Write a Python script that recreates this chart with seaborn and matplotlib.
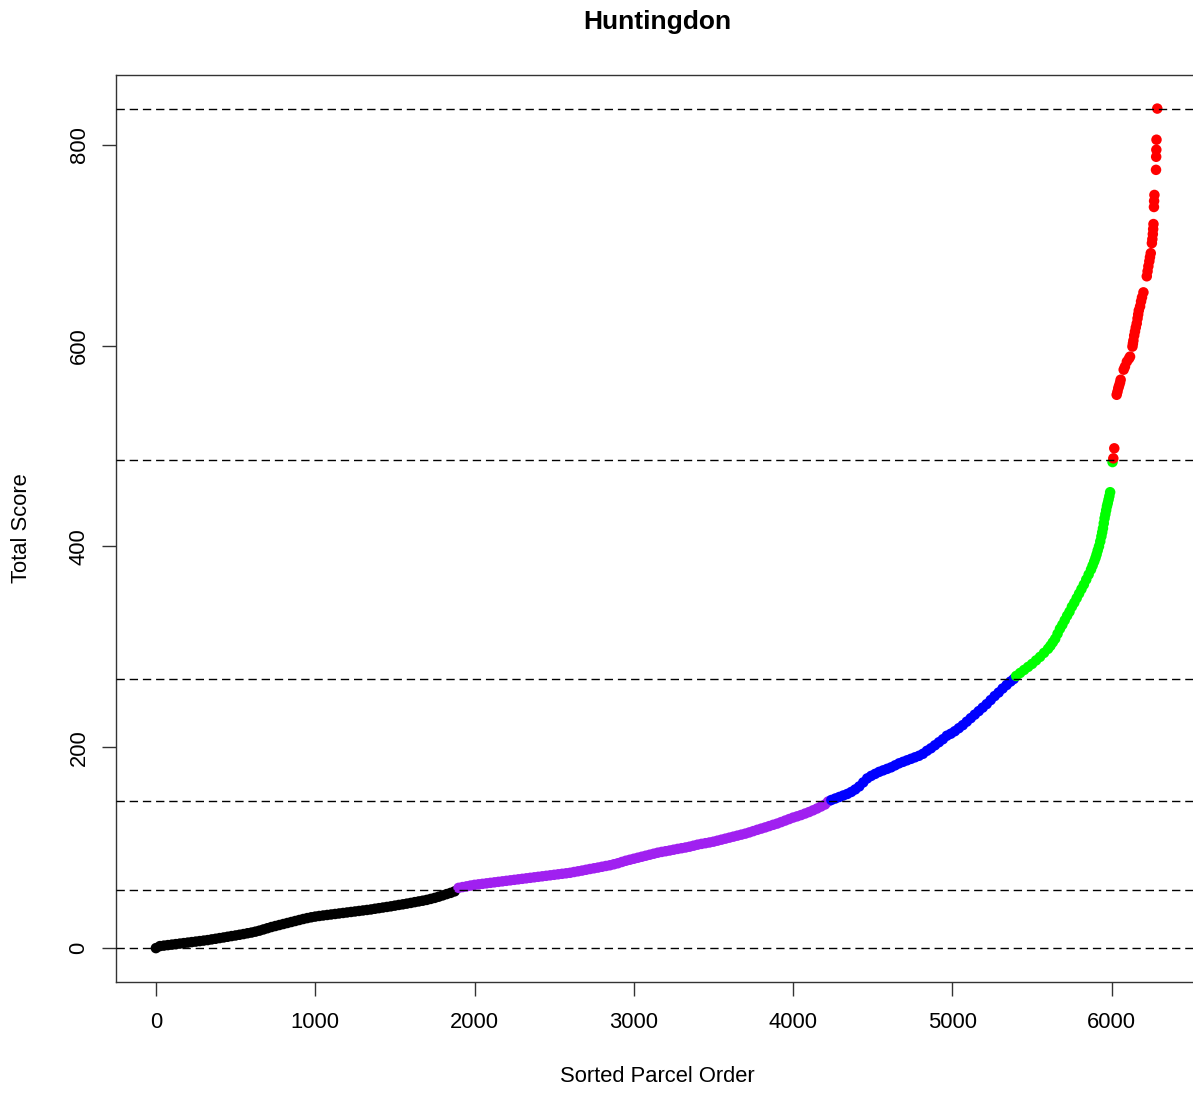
import pandas as pd
import numpy as np
import seaborn as sns
import matplotlib
matplotlib.use("Agg")
import matplotlib.pyplot as plt

# scores, one array pair per colour class
black_rank = [0, 25, 50, 75, 100, 125, 150, 175, 200, 225, 250, 275, 300, 325, 350,
              375, 400, 425, 450, 475, 500, 525, 550, 575, 600, 625, 650, 675, 700,
              725, 750, 775, 800, 825, 850, 875, 900, 925, 950, 975, 1000, 1025, 1050,
              1075, 1100, 1125, 1150, 1175, 1200, 1225, 1250, 1275, 1300, 1325, 1350,
              1375, 1400, 1425, 1450, 1475, 1500, 1525, 1550, 1575, 1600, 1625, 1650,
              1675, 1700, 1725, 1750, 1775, 1800, 1825, 1850, 1875]
black_score = [0, 2, 2.5, 3, 3.5, 4, 4.5, 5, 5.5, 6, 6.5, 7, 7.5, 8, 8.7,
               9.3, 10, 10.6, 11.3, 12, 12.6, 13.3, 14, 14.8, 15.5, 16.4, 17.4, 18.6, 19.8,
               21, 22, 23, 24, 25, 26, 27, 28, 29, 29.9, 30.7, 31.4, 32, 32.5,
               33, 33.5, 34, 34.5, 35, 35.5, 36, 36.5, 37, 37.5, 38, 38.5,
               39.2, 39.8, 40.4, 41, 41.6, 42.3, 43, 43.6, 44.3, 45, 45.8, 46.5,
               47.2, 48, 49, 50, 51.2, 52.5, 53.8, 55, 56.5]

purple_rank = [1900, 1925, 1950, 1975, 2000, 2025, 2050, 2075, 2100, 2125, 2150, 2175,
               2200, 2225, 2250, 2275, 2300, 2325, 2350, 2375, 2400, 2425, 2450, 2475,
               2500, 2525, 2550, 2575, 2600, 2625, 2650, 2675, 2700, 2725, 2750, 2775,
               2800, 2825, 2850, 2875, 2900, 2925, 2950, 2975, 3000, 3025, 3050, 3075,
               3100, 3125, 3150, 3175, 3200, 3225, 3250, 3275, 3300, 3325, 3350, 3375,
               3400, 3425, 3450, 3475, 3500, 3525, 3550, 3575, 3600, 3625, 3650, 3675,
               3700, 3725, 3750, 3775, 3800, 3825, 3850, 3875, 3900, 3925, 3950, 3975,
               4000, 4025, 4050, 4075, 4100, 4125, 4150, 4175, 4200, 4220]
purple_score = [60, 60.8, 61.5, 62.3, 63, 63.5, 64, 64.5, 65, 65.5, 66, 66.5,
                67, 67.5, 68, 68.5, 69, 69.5, 70, 70.5, 71, 71.5, 72, 72.5,
                73, 73.5, 74, 74.5, 75, 75.8, 76.5, 77.2, 78, 78.8, 79.5, 80.2,
                81, 81.8, 82.5, 83.5, 84.5, 85.8, 87, 88, 89, 90, 91, 92,
                93, 94, 95, 95.8, 96.5, 97.2, 98, 98.8, 99.5, 100.2, 101, 102,
                103, 103.8, 104.5, 105.2, 106, 107, 108, 109, 110, 111, 112, 113,
                114, 115.2, 116.5, 117.8, 119, 120.2, 121.5, 122.8, 124, 125.5, 127, 128.5,
                130, 131.2, 132.5, 134, 135.5, 137.2, 139, 141, 143, 146]

blue_rank = [4240, 4265, 4290, 4315, 4340, 4365, 4390, 4415, 4440, 4465, 4490, 4515,
             4540, 4565, 4590, 4615, 4640, 4665, 4690, 4715, 4740, 4765, 4790, 4815,
             4840, 4865, 4890, 4915, 4940, 4965, 4990, 5015, 5040, 5065, 5090, 5115,
             5140, 5165, 5190, 5215, 5240, 5265, 5290, 5315, 5340, 5365, 5385]
blue_score = [147.5, 149, 150.5, 152, 153.5, 155.5, 158, 161, 165, 169, 171.5, 173.5,
              175.5, 177, 178.5, 180, 182, 184, 185.5, 187, 188.5, 190, 191.5, 193.5,
              196.5, 199, 202, 205, 208, 211.5, 213.5, 216, 219, 222, 225.5, 229,
              232.5, 236, 239.5, 243, 247, 251, 254.5, 258.5, 262, 265.5, 268]

green_rank = [5400, 5425, 5450, 5475, 5500, 5525, 5550, 5575, 5600, 5615, 5630, 5645,
              5660, 5675, 5690, 5705, 5720, 5735, 5750, 5765, 5780, 5795, 5810, 5825,
              5840, 5855, 5870, 5880, 5890, 5898, 5905, 5912, 5920, 5928, 5935, 5940,
              5945, 5950, 5955, 5960, 5965, 5970, 5975, 5980, 5985, 5990, 6005]
green_score = [271, 274, 277, 280, 283, 286.5, 290, 294, 298, 301, 304.5, 308,
               313, 318, 322, 326.5, 331, 335, 340, 344, 348.5, 353, 357.5, 362,
               367, 372, 377, 381, 385, 388.5, 392, 396, 400, 405, 410, 414,
               418, 423, 428, 432, 436, 440, 443, 446.5, 450, 454, 484]

red_rank = [6010, 6016, 6031, 6036, 6041, 6046, 6052, 6056, 6075, 6083, 6095, 6108,
            6115, 6130, 6133, 6136, 6141, 6146, 6151, 6157, 6162, 6166, 6170, 6178,
            6184, 6190, 6199, 6220, 6225, 6230, 6236, 6240, 6245, 6252, 6255, 6258,
            6260, 6262, 6265, 6266, 6268, 6278, 6279, 6280, 6281, 6286]
red_score = [487.7, 497.7, 551, 554, 557.5, 560, 563, 566, 576, 579, 584, 587,
             589, 599, 602, 605, 610, 614, 618, 622, 627, 631, 635, 639,
             644, 648, 653, 669, 674, 679, 684, 688, 692, 702, 706, 711,
             716, 721, 738, 744, 750, 775, 788, 795, 805, 836]

# class break values (dashed lines)
breaks = [0, 57.5, 146.5, 267.5, 486, 836]

band_colors = {"black": "#000000", "purple": "#A020F0", "blue": "#0000FF",
               "green": "#00FF00", "red": "#FF0000"}

frames = []
for name, r, s in [("black", black_rank, black_score),
                   ("purple", purple_rank, purple_score),
                   ("blue", blue_rank, blue_score),
                   ("green", green_rank, green_score),
                   ("red", red_rank, red_score)]:
    frames.append(pd.DataFrame({"rank": r, "score": s, "band": name}))
df = pd.concat(frames, ignore_index=True)

sns.set_theme(style="white")
plt.rcParams["font.family"] = ["Liberation Sans", "DejaVu Sans"]
plt.rcParams["text.color"] = "black"

fig = plt.figure(figsize=(11.93, 10.93), dpi=100)
# axes runs past the right edge, as in the cropped reference
ax = fig.add_axes([116 / 1193, 1 - 981.7 / 1093, 1082 / 1193, 906.7 / 1093])

sns.scatterplot(data=df, x="rank", y="score", hue="band", palette=band_colors,
                s=57, linewidth=0, legend=False, ax=ax, zorder=2)

for b in breaks:
    ax.axhline(b, color="black", lw=1.0, dashes=(6, 3.5), zorder=3)

n = 6290
ax.set_xlim(1 - 0.04 * (n - 1), n + 0.04 * (n - 1))
ymax = max(breaks)
ax.set_ylim(-0.04 * ymax, ymax * 1.04)

ax.set_xticks(np.arange(0, 7000, 1000))
ax.set_yticks(np.arange(0, 1000, 200))
ax.tick_params(axis="both", which="both", direction="out", length=10, width=1,
               color="#333333", labelsize=15.8, labelcolor="black",
               bottom=True, left=True)
ax.tick_params(axis="x", pad=12)
ax.tick_params(axis="y", pad=9)
for lab in ax.get_yticklabels():
    lab.set_rotation(90)
    lab.set_va("center")

for sp in ax.spines.values():
    sp.set_color("#333333")
    sp.set_linewidth(1.0)

ax.set_xlabel("")
ax.set_ylabel("")
fig.text(657 / 1193, 1 - 1077 / 1093, "Sorted Parcel Order", ha="center",
         va="center", fontsize=15.8)
fig.text(22 / 1193, 1 - 528 / 1093, "Total Score", ha="center", va="center",
         rotation=90, fontsize=15.8)
fig.text(657 / 1193, 1 - 22 / 1093, "Huntingdon", ha="center", va="center",
         fontsize=19, fontweight="bold")

fig.savefig("out.png", dpi=100)
